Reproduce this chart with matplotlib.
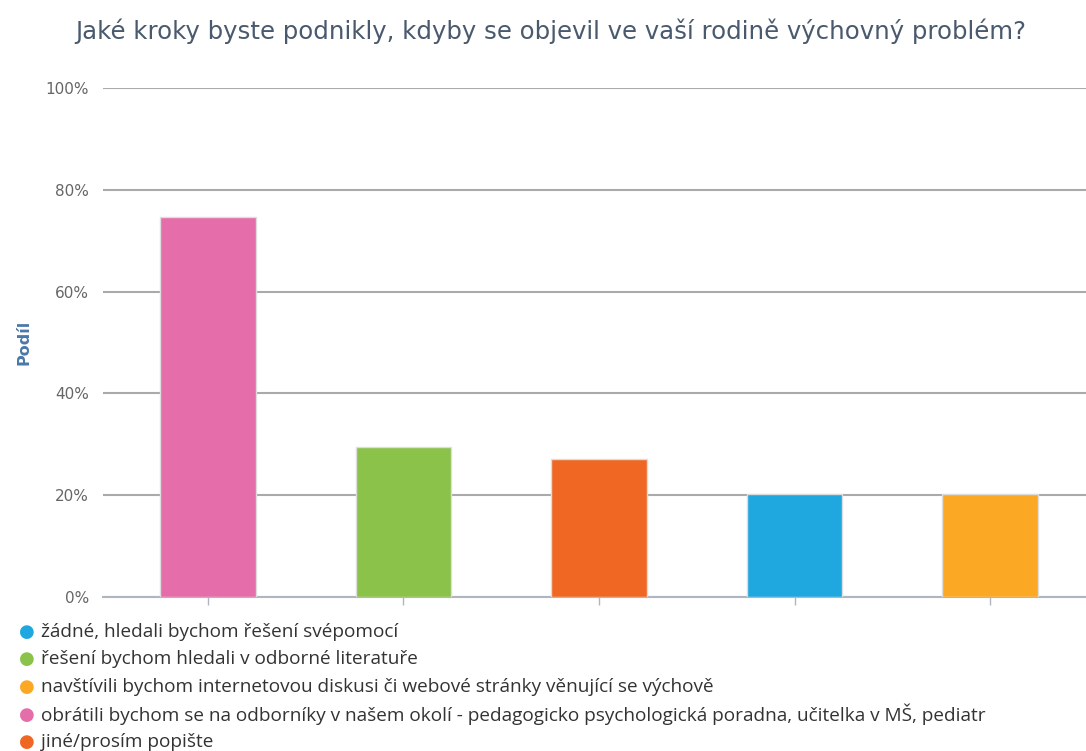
import matplotlib.pyplot as plt

# legend order
labels = [
    "žádné, hledali bychom řešení svépomocí",
    "řešení bychom hledali v odborné literatuře",
    "navštívili bychom internetovou diskusi či webové stránky věnující se výchově",
    "obrátili bychom se na odborníky v našem okolí - pedagogicko psychologická poradna, učitelka v MŠ, pediatr",
    "jiné/prosím popište",
]
shares = [20.2, 29.5, 20.2, 74.7, 27.1]
colors = ["#1fa8e0", "#8bc34a", "#fba925", "#e56daa", "#f06724"]
yticks = [0, 20, 40, 60, 80, 100]

# bars are drawn sorted by value
order = sorted(range(len(shares)), key=lambda i: -shares[i])

fig = plt.figure(figsize=(10.86, 7.51), dpi=100)
ax = fig.add_axes([103/1086, 1-597/751, 983/1086, 509/751])

for pos, i in enumerate(order):
    ax.bar(pos, shares[i], width=0.49, color=colors[i], edgecolor="#dddddd",
           linewidth=1, zorder=3)

ax.set_xlim(-0.537, 4.491)
ax.set_ylim(0, 100)
ax.set_yticks(yticks)
ax.set_yticklabels([f"{t}%" for t in yticks], color="#666666", fontsize=11)
ax.set_xticks(range(len(shares)))
ax.set_xticklabels([])
ax.tick_params(axis="y", length=0, pad=10)
ax.tick_params(axis="x", length=6, color="#b0b6c0", width=1)
ax.grid(axis="y", color="#aaaaaa", linewidth=1.5, zorder=0)
for s in ["top", "right", "left"]:
    ax.spines[s].set_visible(False)
ax.spines["bottom"].set_color("#b0b6c0")
ax.spines["bottom"].set_linewidth(1.5)
ax.set_ylabel("Podíl", color="#4a78a8", fontweight="bold", fontsize=11.5, labelpad=10)

fig.text(551/1086, 1-31/751, "Jaké kroky byste podnikly, kdyby se objevil ve vaší rodině výchovný problém?",
         ha="center", va="center", fontsize=17.6, color="#4a5a6e", family="DejaVu Sans")

texts = []
for k, (lab, c) in enumerate(zip(labels, colors)):
    y = 1 - (632 + 27.5*k)/751
    fig.text(27/1086, y, "●", color=c, fontsize=13, ha="center", va="center")
    texts.append(fig.text(41/1086, y, lab, color="#333333", fontsize=12, ha="left",
                          va="center", family="Open Sans", fontstretch="semi-condensed"))

# fit the longest legend line to its width in the reference (~943 px)
r = fig.canvas.get_renderer()
w = texts[3].get_window_extent(r).width
for t in texts:
    t.set_fontsize(12 * 943 / w)

fig.savefig("out.png", dpi=100)
